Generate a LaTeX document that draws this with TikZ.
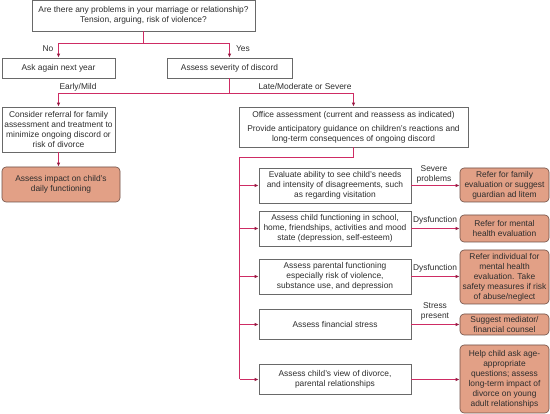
\documentclass[tikz,border=0pt]{standalone}
\usepackage{fontspec}
\setmainfont{Liberation Sans}
\usetikzlibrary{arrows.meta}
\definecolor{linec}{RGB}{206,44,100}
\definecolor{tipc}{RGB}{150,25,65}
\definecolor{boxc}{RGB}{105,105,105}
\definecolor{fillc}{RGB}{226,160,134}
\definecolor{fbord}{RGB}{110,80,70}
\definecolor{txt}{RGB}{45,45,45}
\begin{document}
\begin{tikzpicture}[x=1pt,y=-1pt,
  font=\fontsize{8.4}{10}\selectfont,
  box/.style={draw=boxc, line width=0.6pt, align=center, inner sep=0pt, text=txt},
  rbox/.style={box, draw=fbord, fill=fillc, rounded corners=4pt},
  conn/.style={color=linec, line width=1pt},
  arr/.style={conn, -{Latex[length=4pt,width=3.4pt,color=tipc]}},
  lab/.style={align=center, inner sep=0pt, text=txt}]
\useasboundingbox (0,0) rectangle (550,414);

% top level
\node[box, minimum width=223pt, minimum height=30.5pt] (q) at (143.5,15.75)
  {Are there any problems in your marriage or relationship?\\Tension, arguing, risk of violence?};
\node[box, minimum width=113pt, minimum height=20pt] (no) at (58.5,68) {Ask again next year};
\node[box, minimum width=125pt, minimum height=20pt] (sev) at (229.5,68) {Assess severity of discord};

\node[box, minimum width=113pt, minimum height=45pt] (cons) at (58.5,129.5)
  {Consider referral for family\\assessment and treatment to\\minimize ongoing discord or\\risk of divorce};
\node[rbox, minimum width=118pt, minimum height=35pt] (impact) at (61,184.5)
  {Assess impact on child’s\\daily functioning};

\node[box, minimum width=229pt, minimum height=40pt] (office) at (353.5,127)
  {Office assessment (current and reassess as indicated)\\[4pt]Provide anticipatory guidance on children’s reactions and\\long-term consequences of ongoing discord};

% evaluation boxes
\node[box, minimum width=152pt, minimum height=35pt] (e1) at (335,185.5)
  {Evaluate ability to see child’s needs\\and intensity of disagreements, such\\as regarding visitation};
\node[box, minimum width=152pt, minimum height=35pt] (e2) at (335,228.5)
  {Assess child functioning in school,\\home, friendships, activities and mood\\state (depression, self-esteem)};
\node[box, minimum width=152pt, minimum height=35pt] (e3) at (335,276.5)
  {Assess parental functioning\\especially risk of violence,\\substance use, and depression};
\node[box, minimum width=152pt, minimum height=30pt] (e4) at (335,324.5)
  {Assess financial stress};
\node[box, minimum width=152pt, minimum height=30pt] (e5) at (335,379.5)
  {Assess child’s view of divorce,\\parental relationships};

% result boxes
\node[rbox, minimum width=89pt, minimum height=34pt] (r1) at (504.5,185)
  {Refer for family\\evaluation or suggest\\guardian ad litem};
\node[rbox, minimum width=89pt, minimum height=27pt] (r2) at (504.5,228.5)
  {Refer for mental\\health evaluation};
\node[rbox, minimum width=89pt, minimum height=54pt] (r3) at (504.5,277)
  {Refer individual for\\mental health\\evaluation. Take\\safety measures if risk\\of abuse/neglect};
\node[rbox, minimum width=89pt, minimum height=21pt] (r4) at (504.5,324.5)
  {Suggest mediator/\\financial counsel};
\node[rbox, minimum width=89pt, minimum height=68pt] (r5) at (504.5,379)
  {Help child ask age-\\appropriate\\questions; assess\\long-term impact of\\divorce on young\\adult relationships};

% connectors
\coordinate (j1) at (143.5,43.5);
\draw[conn] (q.south) -- (j1);
\draw[arr] (j1) -| (no.north);
\draw[arr] (j1) -| (sev.north);

\coordinate (j2) at (229.5,93.5);
\draw[conn] (sev.south) -- (j2);
\draw[arr] (j2) -| (cons.north);
\draw[arr] (j2) -| (office.north);

\draw[arr] (cons.south) -- (cons.south |- impact.north);

\coordinate (j4) at (239.5,157.5);
\coordinate (j5) at (239.5,379.5);
\draw[conn] (office.south) |- (j4) -- (j5);
\foreach \e in {e1,e2,e3,e4,e5} {
  \draw[arr] (\e.west -| j4) -- (\e.west);
}
\draw[arr] (e1.east) -- (e1.east -| r1.west);
\draw[arr] (e2.east) -- (e2.east -| r2.west);
\draw[arr] (e3.east) -- (e3.east -| r3.west);
\draw[arr] (e4.east) -- (e4.east -| r4.west);
\draw[arr] (e5.east) -- (e5.east -| r5.west);

% labels
\node[lab] (lno) at (48,49) {No};
\node[lab] (lyes) at (243,49) {Yes};
\node[lab] (lem) at (78,87) {Early/Mild};
\node[lab] (llm) at (305,87) {Late/Moderate or Severe};
\node[lab] (lsp) at (434,174) {Severe\\problems};
\node[lab] (ld1) at (435,220) {Dysfunction};
\node[lab] (ld2) at (435,268) {Dysfunction};
\node[lab] (lst) at (435,311) {Stress\\present};
\end{tikzpicture}
\end{document}
